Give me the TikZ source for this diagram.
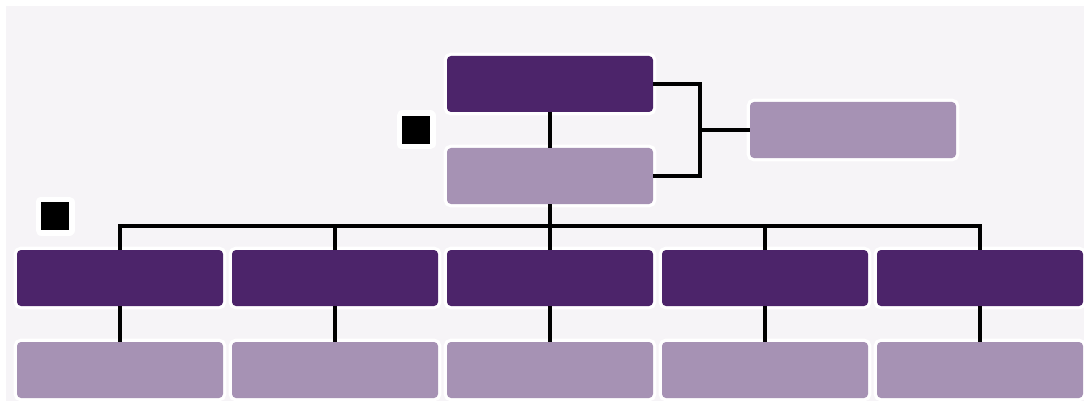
\documentclass[tikz,border=0pt]{standalone}
\definecolor{bgc}{HTML}{F6F4F7}
\definecolor{darkp}{HTML}{4C246A}
\definecolor{lightp}{HTML}{A692B4}
\begin{document}
\begin{tikzpicture}[x=1pt,y=-1pt,
  box/.style={rectangle, rounded corners=4pt, minimum width=206pt, minimum height=56pt, inner sep=0pt, outer sep=0pt, preaction={draw=white, line width=6.6pt}},
  darkbox/.style={box, fill=darkp},
  lightbox/.style={box, fill=lightp},
  sq/.style={rectangle, fill=black, minimum size=28pt, inner sep=0pt, outer sep=0pt, preaction={draw=white, line width=11pt, line join=round}},
  conn/.style={draw=black, line width=3.5pt}]
\useasboundingbox (0,0) rectangle (1084,401);
\fill[white] (0,0) rectangle (1084,401);
\fill[bgc] (6,6) rectangle (1084,401);
% top part
\node[darkbox] (top) at (550,84) {};
\node[lightbox] (mid) at (550,176) {};
\node[lightbox] (right) at (853,130) {};
\node[sq] (s1) at (416,130) {};
\node[sq] (s2) at (55,216) {};
% rows
\foreach \i/\x in {1/120,2/335,3/550,4/765,5/980}{
  \node[darkbox] (a\i) at (\x,278) {};
  \node[lightbox] (b\i) at (\x,370) {};
}
\coordinate (j) at (700,130);
\coordinate (bus) at (550,226);
\draw[conn] (top.south) -- (mid.north);
\draw[conn] (top.east) -| (j) |- (mid.east);
\draw[conn] (j) -- (right.west);
\draw[conn] (mid.south) -- (bus);
\draw[conn] (a1.north) -- (a1.north |- bus) -- (a5.north |- bus) -- (a5.north);
\foreach \i in {2,3,4}{
  \draw[conn] (a\i.north) -- (a\i.north |- bus);
}
\foreach \i in {1,...,5}{
  \draw[conn] (a\i.south) -- (b\i.north);
}
\end{tikzpicture}
\end{document}
